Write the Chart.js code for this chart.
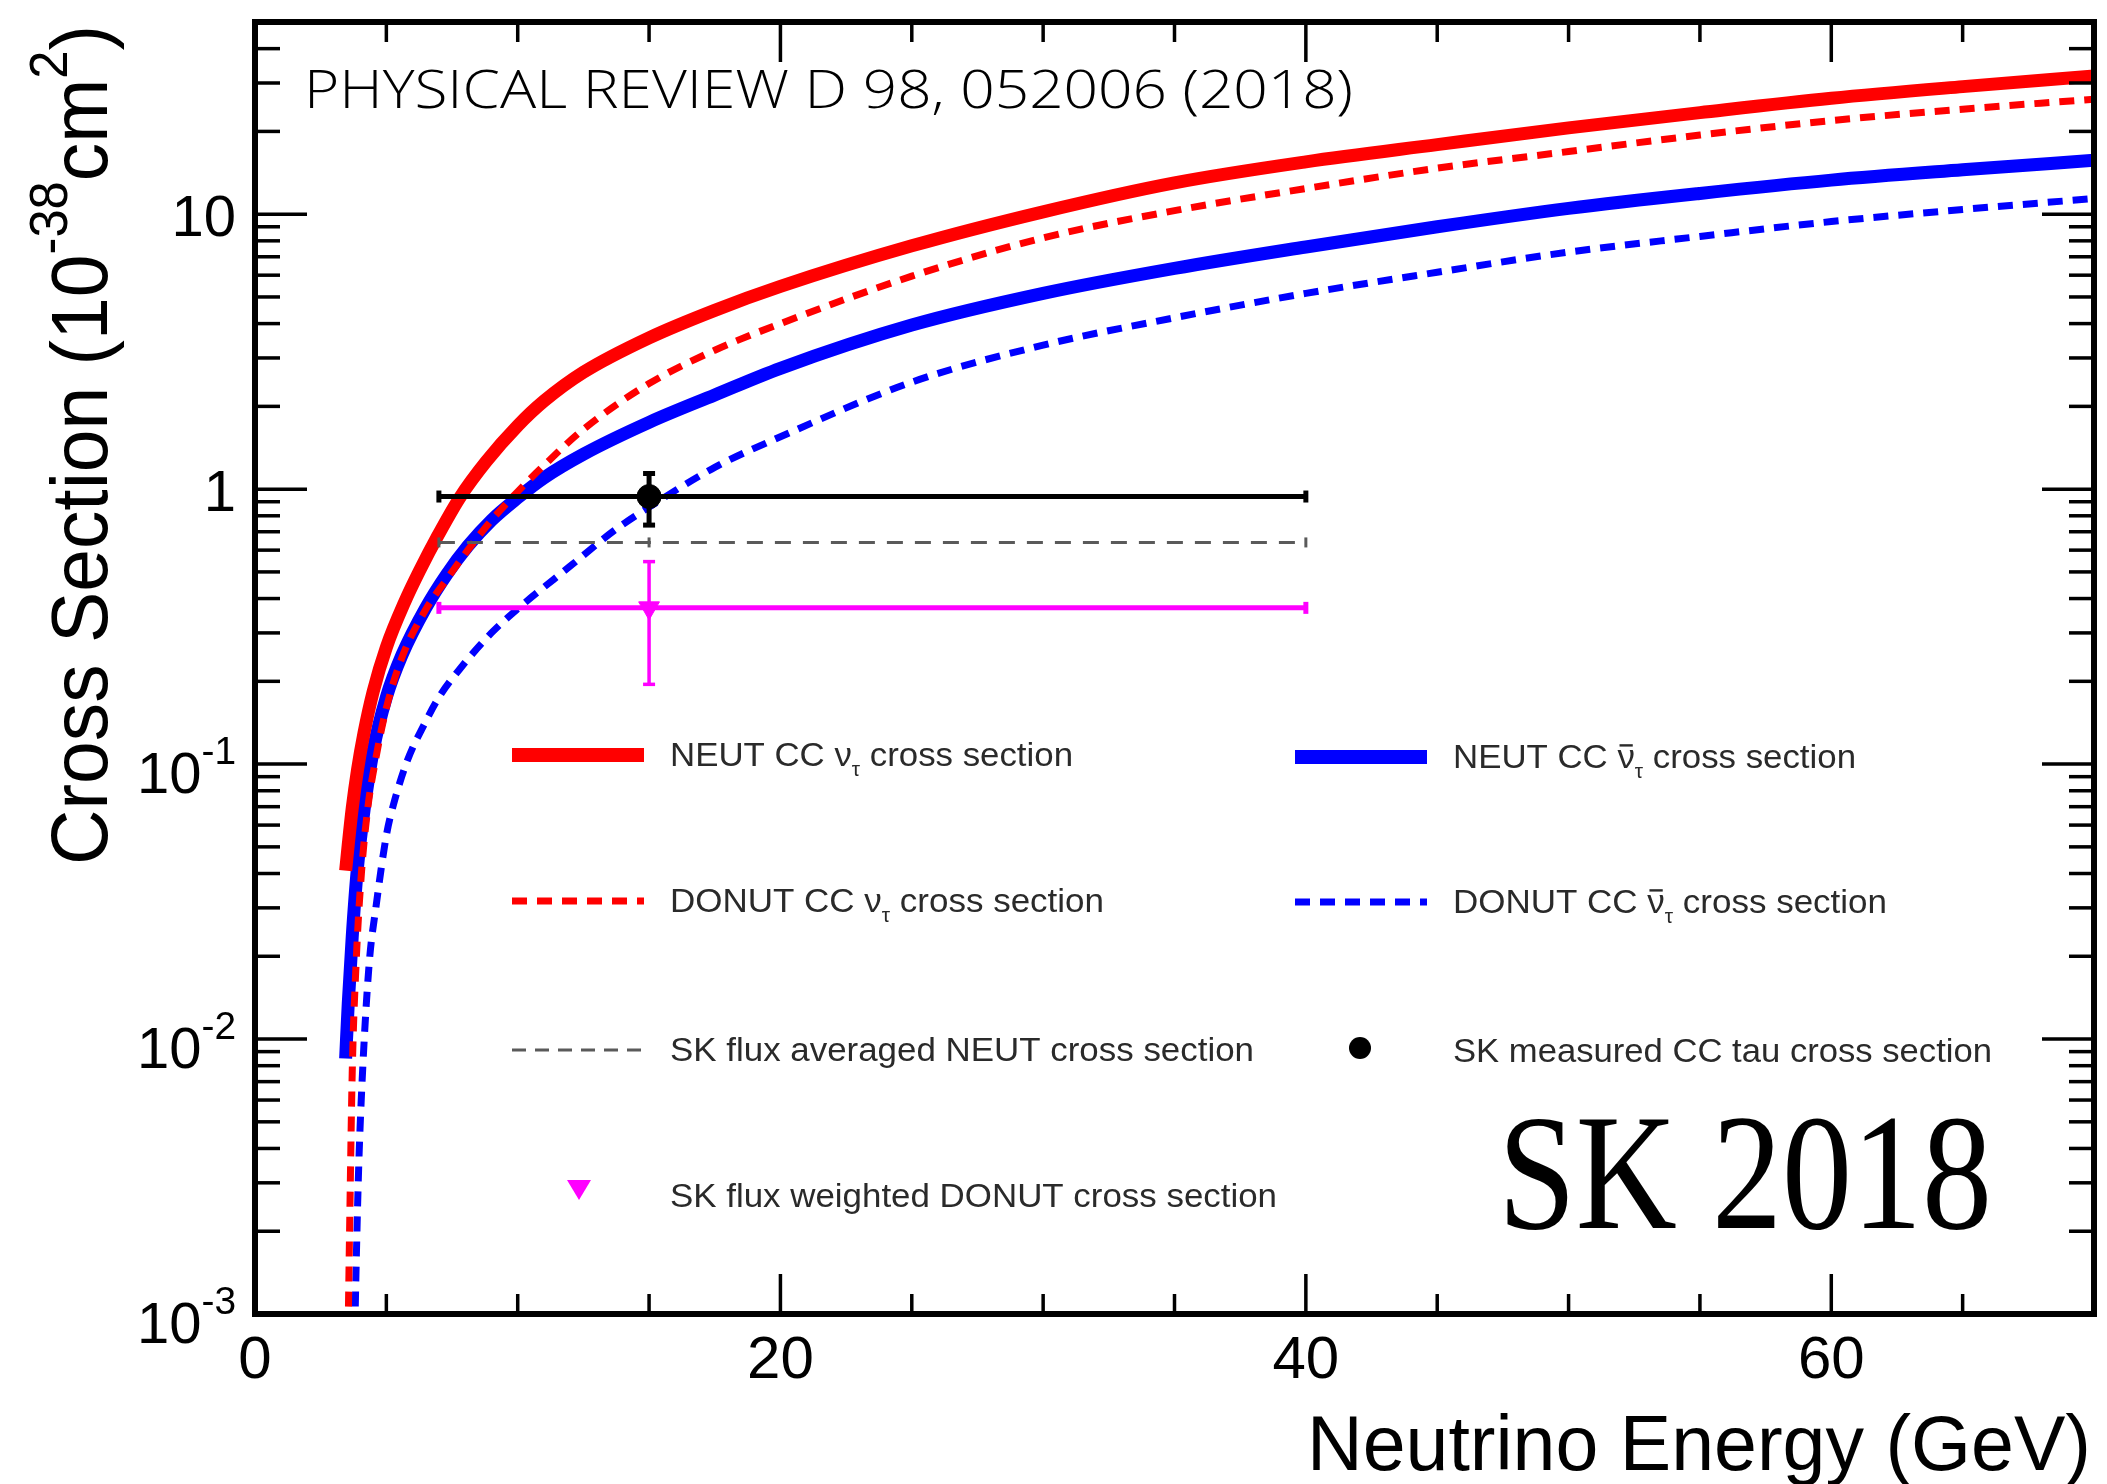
<!DOCTYPE html>
<html>
<head>
<meta charset="utf-8">
<script src="https://cdn.jsdelivr.net/npm/chart.js@4.4.1/dist/chart.umd.min.js"></script>
<style>
  html, body { margin: 0; padding: 0; background: #fff; }
  #wrap { width: 2107px; height: 1484px; position: relative; }
</style>
</head>
<body>
<div id="wrap"><canvas id="xsec"></canvas></div>
<script>
// neutrino energy in GeV, cross sections in 1e-38 cm^2
const neutNuE = [3.45, 3.55, 3.7, 3.9, 4.15, 4.5, 5.0, 5.7, 6.3, 6.9, 7.8, 8.8, 10, 11, 12.5, 15, 17.5, 20, 25, 30, 35, 40, 45, 50, 55, 60, 65, 70];
const neutNuXs = [0.041, 0.051, 0.069, 0.095, 0.13, 0.184, 0.266, 0.389, 0.513, 0.661, 0.933, 1.26, 1.70, 2.09, 2.66, 3.55, 4.47, 5.46, 7.67, 10.2, 13.0, 15.5, 17.9, 20.6, 23.4, 26.4, 29.1, 31.8];

const neutNubarE = [3.45, 3.55, 3.7, 3.9, 4.15, 4.5, 5.0, 5.6, 6.5, 7.3, 8.1, 9.0, 10, 11, 12.5, 15, 17.5, 20, 25, 30, 35, 40, 45, 50, 55, 60, 65, 70];
const neutNubarXs = [0.0085, 0.0135, 0.0235, 0.042, 0.068, 0.112, 0.175, 0.25, 0.37, 0.49, 0.62, 0.77, 0.93, 1.1, 1.34, 1.75, 2.2, 2.75, 3.95, 5.15, 6.35, 7.6, 9.0, 10.5, 11.9, 13.3, 14.5, 15.7];

const donutNuE = [3.53, 3.6, 3.7, 3.85, 4.05, 4.3, 4.6, 5.0, 5.6, 6.5, 7.3, 8.1, 9.0, 10, 11, 12.5, 15, 17.5, 20, 25, 30, 35, 40, 45, 50, 55, 60, 65, 70];
const donutNuXs = [0.0007, 0.002, 0.0075, 0.019, 0.04, 0.07, 0.105, 0.16, 0.245, 0.365, 0.47, 0.6, 0.77, 0.98, 1.22, 1.65, 2.42, 3.2, 4.0, 5.95, 8.2, 10.3, 12.4, 14.7, 16.9, 19.4, 21.9, 24.1, 26.2];

const donutNubarE = [3.78, 3.85, 3.95, 4.1, 4.35, 4.6, 5.0, 5.25, 5.8, 6.45, 7.0, 7.85, 9.0, 10, 12, 13.7, 15, 17.5, 20, 25, 30, 35, 40, 45, 50, 55, 60, 65, 70];
const donutNubarXs = [0.0007, 0.0015, 0.0035, 0.0078, 0.019, 0.03, 0.055, 0.07, 0.103, 0.14, 0.175, 0.225, 0.3, 0.367, 0.525, 0.71, 0.86, 1.2, 1.55, 2.45, 3.34, 4.2, 5.15, 6.15, 7.28, 8.3, 9.4, 10.4, 11.4];

// SK measurement and flux averaged values, energy bin 7-40 GeV
const binE = [7, 15, 40];
const measXs = 0.94;
const measErr = 0.20;
const neutAvgXs = 0.64;
const donutAvgXs = 0.37;
const donutAvgErr = 0.175;

// axis ticks
const xTicks = [0, 20, 40, 60];
const xTickLabels = ['0', '20', '40', '60'];
const yTicks = [0.001, 0.01, 0.1, 1, 10];
const yTickBase = ['10', '10', '10', '1', '10'];
const yTickExp = ['-3', '-2', '-1', '', ''];

const RED = '#ff0000', BLUE = '#0000ff', MAGENTA = '#ff00ff', GRAY = '#5a5a5a';
const DASH = [15, 10];
const SANS = '"Liberation Sans", Arial, sans-serif';

function pts(xs, ys) {
    return xs.map((v, i) => ({x: v, y: ys[i]}));
}

function curve(label, xs, ys, color, width, dash) {
    return {
        label: label,
        data: pts(xs, ys),
        borderColor: color,
        borderWidth: width,
        borderDash: dash || [],
        borderCapStyle: 'butt',
        pointRadius: 0,
        cubicInterpolationMode: 'monotone',
        clip: 0,
        fill: false
    };
}

function errBar(label, data, color, width, capRot, capLen) {
    return {
        label: label,
        data: data,
        borderColor: color,
        borderWidth: width,
        pointStyle: 'line',
        pointRotation: capRot,
        pointRadius: capLen,
        pointBorderColor: color,
        pointBorderWidth: width,
        clip: 0
    };
}

function partFont(p, o) {
    const small = p[1] === 'sub' || p[1] === 'sup';
    const size = small ? o.size * (o.small || 0.65) : o.size;
    return (o.weight || 'normal') + ' ' + size + 'px ' + o.family;
}

// draws text made of pieces with sub/superscripts, optionally squeezed to a width
function drawRich(ctx, parts, x, y, o) {
    let natural = 0;
    const widths = parts.map(p => {
        ctx.font = partFont(p, o);
        const w = ctx.measureText(p[0]).width;
        natural += w;
        return w;
    });
    const sx = o.width ? o.width / natural : 1;
    const total = natural * sx;
    let start = x;
    if (o.align === 'right') start = x - total;
    else if (o.align === 'center') start = x - total / 2;
    ctx.save();
    ctx.fillStyle = o.color || '#000';
    ctx.textAlign = 'left';
    ctx.textBaseline = 'alphabetic';
    ctx.translate(start, y);
    ctx.scale(sx, 1);
    let cx = 0;
    parts.forEach((p, i) => {
        ctx.font = partFont(p, o);
        let dy = 0;
        if (p[1] === 'sup') dy = -o.size * (o.raise || 0.45);
        if (p[1] === 'sub') dy = o.size * 0.3;
        ctx.fillText(p[0], cx, dy);
        if (p[1] === 'bar') {
            ctx.fillRect(cx + widths[i] * 0.12, -o.size * 0.7, widths[i] * 0.76, Math.max(2, o.size * 0.07));
        }
        cx += widths[i];
    });
    ctx.restore();
}

const legendRows = [
    {x: 512, y: 766, sym: 'line', color: RED, width: 14, parts: [['NEUT CC '], ['ν'], ['τ', 'sub'], [' cross section']], w: 403},
    {x: 512, y: 912, sym: 'line', color: RED, width: 7, dash: DASH, parts: [['DONUT CC '], ['ν'], ['τ', 'sub'], [' cross section']], w: 434},
    {x: 512, y: 1061, sym: 'line', color: GRAY, width: 3, dash: [14, 9], parts: [['SK flux averaged NEUT cross section']], w: 584},
    {x: 512, y: 1207, sym: 'triangle', color: MAGENTA, parts: [['SK flux weighted DONUT cross section']], w: 607},
    {x: 1295, y: 768, sym: 'line', color: BLUE, width: 14, parts: [['NEUT CC '], ['ν', 'bar'], ['τ', 'sub'], [' cross section']], w: 403},
    {x: 1295, y: 913, sym: 'line', color: BLUE, width: 7, dash: DASH, parts: [['DONUT CC '], ['ν', 'bar'], ['τ', 'sub'], [' cross section']], w: 434},
    {x: 1295, y: 1062, sym: 'dot', color: '#000', parts: [['SK measured CC tau cross section']], w: 539}
];

const decorations = {
    id: 'decorations',
    afterDatasetsDraw(chart) {
        const ctx = chart.ctx;
        const a = chart.chartArea;
        const x = chart.scales.x;
        const y = chart.scales.y;

        function seg(x1, y1, x2, y2) {
            ctx.beginPath();
            ctx.moveTo(x1, y1);
            ctx.lineTo(x2, y2);
            ctx.stroke();
        }

        ctx.save();
        ctx.strokeStyle = '#000';
        ctx.lineCap = 'butt';

        // ticks on all four sides, pointing inwards
        ctx.lineWidth = 3.5;
        for (let v = 0; v <= x.max; v += 5) {
            const px = x.getPixelForValue(v);
            const len = v % 20 === 0 ? 40 : 20;
            seg(px, a.bottom, px, a.bottom - len);
            seg(px, a.top, px, a.top + len);
        }
        for (let d = -3; d <= 1; d++) {
            for (let k = 1; k <= 9; k++) {
                const v = k * Math.pow(10, d);
                if (v >= y.max) break;
                const py = y.getPixelForValue(v);
                const len = k === 1 ? 52 : 25;
                seg(a.left, py, a.left + len, py);
                seg(a.right, py, a.right - len, py);
            }
        }

        ctx.lineWidth = 6;
        ctx.strokeRect(a.left, a.top, a.right - a.left, a.bottom - a.top);
        ctx.restore();

        // tick labels
        xTicks.forEach((v, i) => {
            drawRich(ctx, [[xTickLabels[i]]], x.getPixelForValue(v), a.bottom + 64, {size: 60, family: SANS, align: 'center'});
        });
        yTicks.forEach((v, i) => {
            const parts = [[yTickBase[i]]];
            if (yTickExp[i]) parts.push([yTickExp[i], 'sup']);
            const py = y.getPixelForValue(v) + (yTickExp[i] ? 29 : 22);
            drawRich(ctx, parts, a.left - 19, py, {size: 58, family: SANS, align: 'right', small: 0.67, raise: 0.5});
        });

        // axis titles
        drawRich(ctx, [['Neutrino Energy (GeV)']], 2091, 1470, {size: 77, family: SANS, align: 'right', width: 784});
        ctx.save();
        ctx.translate(107, 25);
        ctx.rotate(-Math.PI / 2);
        drawRich(ctx, [['Cross Section (10'], ['-38', 'sup'], ['cm'], ['2', 'sup'], [')']], 0, 0,
            {size: 80, family: SANS, align: 'right', width: 840, small: 0.66, raise: 0.5});
        ctx.restore();

        // reference and experiment tags
        drawRich(ctx, [['PHYSICAL REVIEW D 98, 052006 (2018)']], 304, 108,
            {size: 53, family: '"Open Sans Light", "Open Sans", "Noto Sans", sans-serif', weight: '300', width: 1049});
        drawRich(ctx, [['SK 2018']], 1498, 1228, {size: 166, family: '"Liberation Serif", "Times New Roman", serif', width: 494});

        // legend
        legendRows.forEach(r => {
            ctx.save();
            if (r.sym === 'line') {
                ctx.strokeStyle = r.color;
                ctx.lineWidth = r.width;
                ctx.setLineDash(r.dash || []);
                seg(r.x, r.y - 11, r.x + 132, r.y - 11);
            } else if (r.sym === 'triangle') {
                const cx = r.x + 67, cy = r.y - 18;
                ctx.fillStyle = r.color;
                ctx.beginPath();
                ctx.moveTo(cx - 12, cy - 9);
                ctx.lineTo(cx + 12, cy - 9);
                ctx.lineTo(cx, cy + 11);
                ctx.closePath();
                ctx.fill();
            } else if (r.sym === 'dot') {
                ctx.fillStyle = r.color;
                ctx.beginPath();
                ctx.arc(r.x + 65, r.y - 14, 11, 0, Math.PI * 2);
                ctx.fill();
            }
            ctx.restore();
            drawRich(ctx, r.parts, r.x + 158, r.y, {size: 34, family: SANS, color: '#2a2a2a', width: r.w, small: 0.6});
        });
    }
};

const ctx = document.getElementById('xsec');
new Chart(ctx, {
    type: 'line',
    data: {
        datasets: [
            {
                label: 'SK measured CC tau cross section',
                data: [{x: binE[1], y: measXs}],
                pointStyle: 'circle',
                pointRadius: 12,
                pointBackgroundColor: '#000',
                pointBorderColor: '#000',
                showLine: false
            },
            errBar('measured error', [{x: binE[1], y: measXs - measErr}, {x: binE[1], y: measXs + measErr}], '#000', 5, 0, 6),
            errBar('measured bin', [{x: binE[0], y: measXs}, {x: binE[2], y: measXs}], '#000', 5, 90, 6),
            {
                label: 'SK flux weighted DONUT cross section',
                data: [{x: binE[1], y: donutAvgXs}],
                pointStyle: 'triangle',
                pointRotation: 180,
                pointRadius: 12,
                pointBackgroundColor: MAGENTA,
                pointBorderColor: MAGENTA,
                showLine: false
            },
            errBar('donut error', [{x: binE[1], y: donutAvgXs - donutAvgErr}, {x: binE[1], y: donutAvgXs + donutAvgErr}], MAGENTA, 3.5, 0, 6),
            errBar('donut bin', [{x: binE[0], y: donutAvgXs}, {x: binE[2], y: donutAvgXs}], MAGENTA, 5, 90, 6),
            Object.assign(errBar('SK flux averaged NEUT cross section', pts(binE, [neutAvgXs, neutAvgXs, neutAvgXs]), GRAY, 3, 90, 5), {borderDash: [16, 12]}),
            curve('DONUT CC nu_tau', donutNuE, donutNuXs, RED, 7, DASH),
            curve('NEUT CC nu_tau', neutNuE, neutNuXs, RED, 13),
            curve('DONUT CC anti-nu_tau', donutNubarE, donutNubarXs, BLUE, 7, DASH),
            curve('NEUT CC anti-nu_tau', neutNubarE, neutNubarXs, BLUE, 13)
        ]
    },
    options: {
        responsive: true,
        maintainAspectRatio: false,
        animation: false,
        layout: {
            padding: {left: 255, right: 9, top: 22, bottom: 170}
        },
        plugins: {
            legend: {display: false},
            tooltip: {enabled: false}
        },
        scales: {
            x: {
                type: 'linear',
                min: 0,
                max: 70,
                display: false
            },
            y: {
                type: 'logarithmic',
                min: 0.001,
                max: 50,
                display: false
            }
        }
    },
    plugins: [decorations]
});
</script>
</body>
</html>
